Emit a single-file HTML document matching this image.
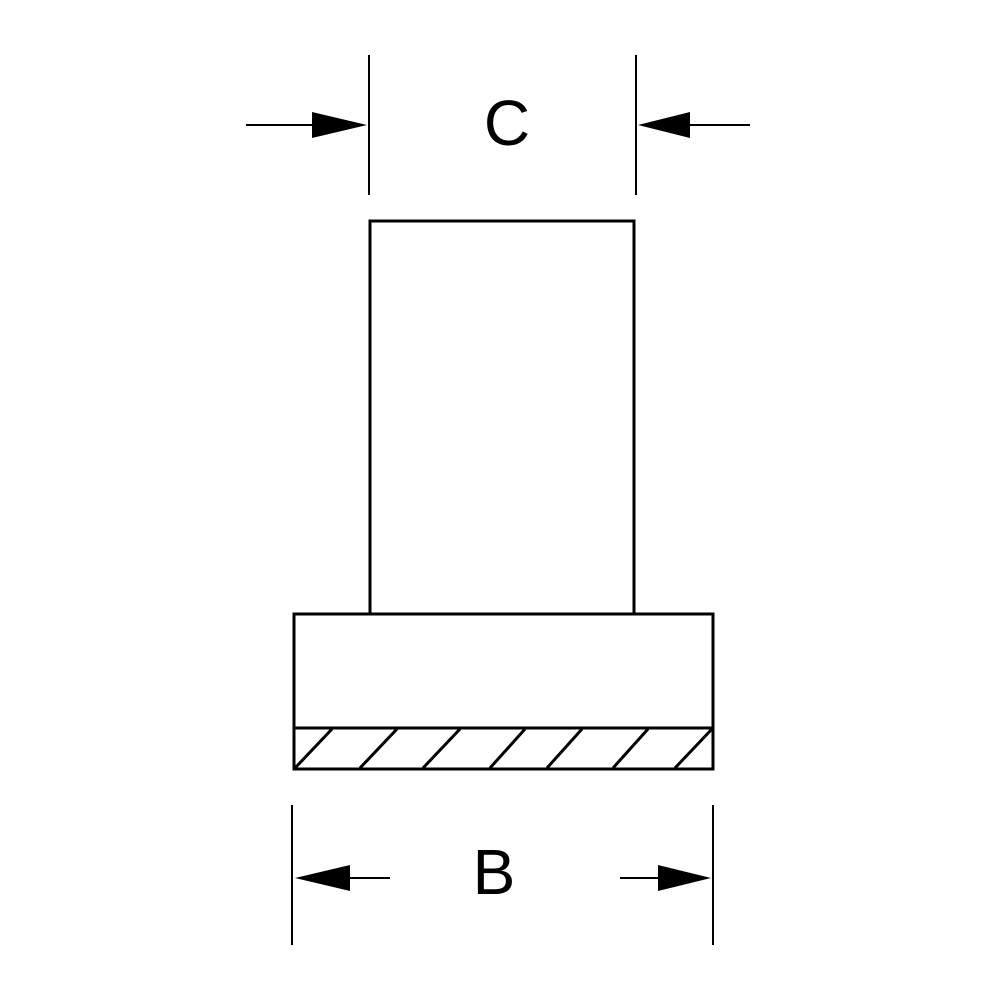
<!DOCTYPE html>
<html><head><style>body{margin:0;background:#fff}</style></head><body>
<svg width="1000" height="1000" viewBox="0 0 1000 1000" xmlns="http://www.w3.org/2000/svg">
<g stroke="#000" stroke-width="3" fill="none">
<rect x="370" y="221" width="264" height="393"/>
<rect x="294" y="614" width="419" height="155"/>
<line x1="294" y1="728" x2="713" y2="728"/>
<line x1="295" y1="768" x2="332" y2="729"/>
<line x1="360" y1="768" x2="397" y2="729"/>
<line x1="423" y1="768" x2="460" y2="729"/>
<line x1="490" y1="768" x2="525" y2="729"/>
<line x1="547" y1="768" x2="582" y2="729"/>
<line x1="613" y1="768" x2="648" y2="729"/>
<line x1="675" y1="768" x2="712" y2="729"/>
</g>
<g stroke="#000" stroke-width="2" fill="none">
<line x1="369" y1="55" x2="369" y2="195"/>
<line x1="636" y1="55" x2="636" y2="195"/>
<line x1="246" y1="125" x2="312" y2="125"/>
<line x1="690" y1="125" x2="750" y2="125"/>
<line x1="292" y1="805" x2="292" y2="945"/>
<line x1="713" y1="805" x2="713" y2="945"/>
<line x1="350" y1="878" x2="390" y2="878"/>
<line x1="620" y1="878" x2="658" y2="878"/>
</g>
<g fill="#000">
<polygon points="312,112 312,138 367,125"/>
<polygon points="690,112 690,138 638,125"/>
<polygon points="350,865 350,891 295,878"/>
<polygon points="658,865 658,891 711,878"/>
</g>
<g font-family="Liberation Sans, sans-serif" font-size="64" text-anchor="middle" fill="#000">
<text x="507" y="145">C</text>
<text x="494" y="894">B</text>
</g>
</svg>
</body></html>
